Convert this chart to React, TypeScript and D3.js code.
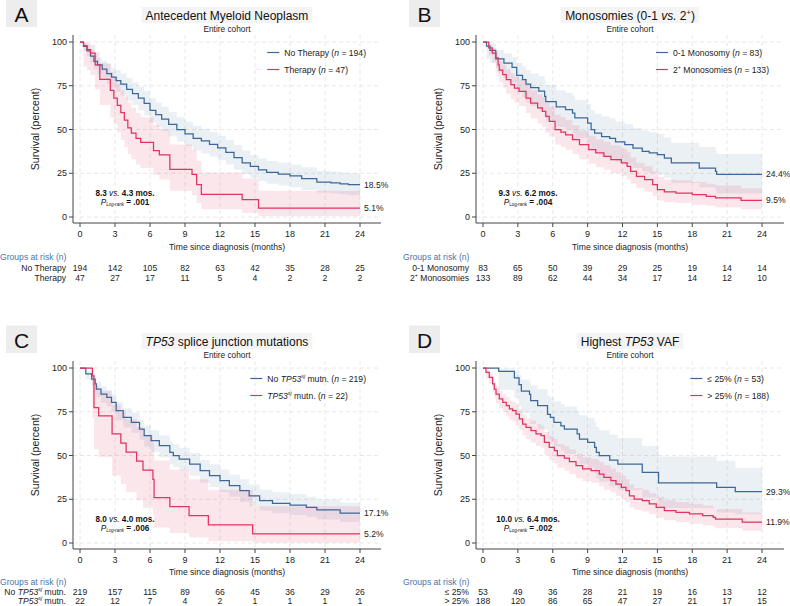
import React, { useEffect, useRef } from "react";
import * as d3 from "d3";

// ---------- shared ----------
const months = [0, 3, 6, 9, 12, 15, 18, 21, 24];
const yTicks = [0, 25, 50, 75, 100];

// ---------- Panel A : Antecedent Myeloid Neoplasm ----------
const aBlueT = [0, 0.3, 0.6, 0.9, 1.2, 1.5, 1.9, 2.3, 2.7, 3.1, 3.5, 4.0, 4.5, 5.0, 5.5, 6.0, 6.5, 7.0, 7.6, 8.3, 9.0, 9.7, 10.4, 11.1, 11.8, 12.5, 13.2, 13.9, 14.6, 15.3, 16.0, 17.0, 18.0, 19.0, 20.3, 21.5, 22.3, 23.0];
const aBlueS = [100, 97.5, 95, 92, 89, 87, 84.5, 82, 80, 78, 76, 73, 70.5, 68, 65, 61, 58.5, 56, 53, 50, 47.5, 45, 43.5, 41.5, 39.5, 37, 34, 31, 29, 27, 25.5, 24.5, 23.5, 22, 20, 19.5, 18.9, 18.5];
const aBlueLo = [100, 95, 92, 88, 84.5, 82, 79, 76, 74, 71.5, 69.5, 66.5, 64, 61, 58, 54, 51.5, 49, 46, 43, 40.5, 38, 36.5, 34.5, 32.5, 30, 27, 24.5, 22.5, 20.5, 19, 18, 17, 15.5, 14, 13.5, 13, 12.5];
const aBlueHi = [100, 99.5, 98, 95.5, 93, 91, 89.5, 87.5, 85.5, 84, 82, 79.5, 77, 74.5, 72, 68, 65.5, 63, 60, 57, 54.5, 52, 50.5, 48.5, 46.5, 44, 41, 38, 35.5, 33.5, 32, 31, 30, 28.5, 26.5, 26, 25.5, 25];
const aRedT = [0, 0.3, 0.6, 0.9, 1.3, 1.7, 2.6, 2.9, 3.2, 3.5, 3.8, 4.1, 4.4, 4.8, 5.2, 6.3, 6.8, 7.7, 9.6, 10.0, 10.4, 13.9, 15.3];
const aRedS = [100, 97.9, 95.7, 93.6, 87, 78.7, 72.3, 68, 63.8, 59.6, 55.3, 51, 48, 45, 42.6, 38, 35.5, 27.2, 24.3, 18.5, 12.9, 9.9, 5.1];
const aRedLo = [100, 86, 84, 81, 73, 64, 57, 53, 48.5, 44, 40, 36, 33, 30, 28, 24, 21.5, 15, 12.5, 8, 4.5, 2.5, 0.5];
const aRedHi = [100, 99.7, 99.4, 98.5, 94.5, 88, 83, 80, 76.5, 72.5, 69, 65.5, 62.5, 59.5, 57, 52.5, 50, 41.5, 38.5, 32, 25.5, 22, 15];
const aRiskBlue = [194, 142, 105, 82, 63, 42, 35, 28, 25];
const aRiskRed = [47, 27, 17, 11, 5, 4, 2, 2, 2];
const aEnd = ["18.5%", "5.1%"];

// ---------- Panel B : Monosomies ----------
const bBlueT = [0, 0.3, 0.6, 1.1, 1.8, 2.5, 2.9, 3.4, 3.7, 4.1, 4.8, 5.3, 5.4, 6.3, 7.1, 7.7, 7.9, 9.0, 9.3, 9.6, 10.2, 10.9, 11.4, 12.2, 12.9, 13.7, 14.3, 15.0, 15.6, 16.2, 18.6, 20.0, 20.1];
const bBlueS = [100, 97.6, 95.2, 90.4, 88, 85.5, 81, 78.5, 76, 74, 72, 69, 66, 63, 61.3, 59.4, 56.6, 53.7, 50, 48, 46, 45, 43, 41.3, 39.4, 37.5, 36.6, 35.6, 33.7, 30.9, 28, 26.1, 24.4];
const bBlueLo = [100, 90.5, 88, 82.5, 79.5, 76.5, 71.5, 68.5, 65.5, 63.5, 61, 58, 55, 51.5, 50, 48, 45, 42, 38.5, 36.5, 34.5, 33.5, 31.5, 30, 28, 26, 25, 24, 22.5, 19.5, 17, 15, 13.5];
const bBlueHi = [100, 99.7, 99, 95.5, 93.5, 91.5, 88, 86, 84, 82, 80.5, 78, 75.5, 72.5, 71, 69.5, 67, 64.5, 61, 59, 57.5, 56.5, 54.5, 53, 51, 49.5, 48.5, 47.5, 45.5, 42.5, 40, 38, 36];
const bRedT = [0, 0.5, 0.8, 1.1, 1.3, 1.4, 1.7, 2.0, 2.4, 2.7, 3.1, 3.7, 4.1, 4.7, 5.1, 5.4, 5.7, 6.2, 6.7, 7.1, 7.7, 8.3, 9.1, 9.7, 10.4, 11.0, 11.9, 12.4, 12.7, 13.2, 13.9, 14.6, 15.0, 15.6, 16.6, 18.0, 19.2, 20.0, 22.2];
const bRedS = [100, 96.6, 93.7, 90.9, 87, 84, 81.3, 78.5, 75.6, 73.7, 71.8, 68, 65.1, 62.3, 60.4, 57.5, 54.7, 50, 48.5, 47, 44.2, 41.3, 38.5, 36.6, 34.7, 32.8, 30.9, 29, 26.1, 23.2, 21.3, 18.5, 15.6, 14.3, 13.7, 12.8, 11.8, 10.9, 9.5];
const bRedLo = [100, 92.5, 88.5, 85, 80.5, 77, 74, 70.5, 67.5, 65.5, 63.5, 59.5, 56.5, 53.5, 51.5, 48.5, 46, 41.5, 40, 38.5, 36, 33, 30.5, 28.5, 27, 25, 23.5, 21.5, 19, 16.5, 14.5, 12, 9.5, 8.5, 8, 7, 6.5, 5.5, 4.5];
const bRedHi = [100, 98.5, 96.5, 94.5, 91.5, 89, 87, 84.5, 82, 80.5, 79, 75.5, 72.5, 70, 68.5, 65.5, 63, 58.5, 57, 55.5, 52.5, 49.5, 46.5, 44.5, 43, 41, 39, 37, 34, 31, 29, 26, 23, 21.5, 21, 20, 19, 18, 16.5];
const bRiskBlue = [83, 65, 50, 39, 29, 25, 19, 14, 14];
const bRiskRed = [133, 89, 62, 44, 34, 17, 14, 12, 10];
const bEnd = ["24.4%", "9.5%"];

// ---------- Panel C : TP53 splice junction ----------
const cBlueT = [0, 0.5, 1.0, 1.3, 1.4, 1.8, 2.3, 2.7, 3.1, 3.7, 4.4, 5.1, 5.5, 6.1, 6.8, 7.7, 8.0, 8.5, 9.4, 10.3, 11.1, 12.0, 12.8, 13.7, 14.5, 15.4, 16.5, 18.0, 19.4, 20.3, 22.3];
const cBlueS = [100, 96.6, 93.7, 90.9, 88, 85.1, 83.2, 80.4, 75.6, 71.8, 69, 65.1, 61.3, 58.5, 55.6, 51.8, 50, 48, 45.1, 41.3, 38.5, 35.6, 32.8, 29.9, 27, 24.2, 22.7, 21.7, 20.4, 18.9, 17.1];
const cBlueLo = [100, 93.5, 90, 86.5, 83.5, 80, 78, 75, 70, 66, 63, 59, 55, 52, 49, 45, 43.5, 41.5, 38.5, 34.5, 32, 29, 26.5, 23.5, 21, 18.5, 17, 16, 15, 13.5, 12];
const cBlueHi = [100, 98.5, 96.5, 94.5, 92, 89.5, 87.5, 85, 80.5, 77, 74.5, 70.5, 67, 64.5, 61.5, 58, 56.5, 54.5, 51.5, 47.5, 45, 42, 39, 36.5, 33.5, 30.5, 29, 28, 26.5, 25, 23];
const cRedT = [0, 1.06, 1.2, 1.6, 2.75, 3.5, 3.95, 4.85, 5.4, 6.25, 6.35, 7.7, 9.35, 11.0, 14.8];
const cRedS = [100, 95.5, 77.3, 72.7, 62.3, 57.1, 51.9, 46.8, 41.6, 36.4, 26.0, 20.8, 15.6, 10.4, 5.2];
const cRedLo = [100, 71.9, 53.6, 49.1, 38.6, 33.7, 29, 24.5, 20.2, 16.1, 8.8, 5.7, 3.1, 1.0, 0.1];
const cRedHi = [100, 99.3, 89.9, 86.7, 79, 74.9, 70.7, 66.3, 61.8, 57.1, 47.1, 41.9, 36.4, 30.4, 21];
const cRiskBlue = [219, 157, 115, 89, 66, 45, 36, 29, 26];
const cRiskRed = [22, 12, 7, 4, 2, 1, 1, 1, 1];
const cEnd = ["17.1%", "5.2%"];

// ---------- Panel D : Highest TP53 VAF ----------
const dBlueT = [0, 1.35, 2.7, 3.1, 3.3, 4.0, 4.1, 4.7, 5.55, 5.8, 6.1, 6.7, 7.0, 8.1, 8.3, 9.0, 9.6, 9.75, 10.0, 10.9, 11.6, 13.7, 15.1, 20.1, 21.7];
const dBlueS = [100, 98.1, 94.3, 90.5, 86.8, 85, 81.3, 78.5, 73.5, 71.8, 69, 67, 65.1, 62.3, 59.4, 57.5, 54.7, 51.8, 49.9, 47.4, 45.1, 40.4, 34.4, 31.8, 29.3];
const dBlueLo = [100, 87.5, 83, 78.5, 74.5, 72, 68, 65, 59.5, 58, 55, 53, 51, 48, 45, 43, 40, 37, 35, 32.5, 30.5, 26, 20, 17.5, 16.5];
const dBlueHi = [100, 99.7, 98, 96, 93.5, 92.5, 90, 88, 84, 83, 81, 79.5, 78, 75.5, 73, 71.5, 69, 66.5, 64.5, 62, 60, 55.5, 49.5, 47, 43];
const dRedT = [0, 0.26, 0.54, 0.83, 0.97, 1.12, 1.4, 1.7, 2.0, 2.27, 2.55, 2.84, 3.13, 3.41, 3.7, 4.13, 4.56, 5.0, 5.28, 5.7, 6.14, 6.4, 7.0, 7.43, 8.0, 8.57, 9.3, 10.0, 10.4, 11.0, 11.44, 11.9, 12.3, 12.6, 13.0, 13.7, 14.3, 14.9, 15.6, 16.6, 17.75, 18.9, 19.8, 20.0, 22.3];
const dRedS = [100, 97.5, 94.7, 90.9, 88, 85.1, 82.3, 80.4, 78.5, 76.6, 75.6, 73.7, 70.9, 68, 66.1, 64.2, 62.3, 61.3, 57.5, 54.7, 52.8, 50, 48.5, 46.5, 44.2, 42.3, 41.3, 39.4, 37.5, 35.6, 33.7, 31.8, 29.9, 27, 25.1, 24.2, 22.3, 20.4, 18.5, 17.5, 16.6, 15.6, 14.7, 13.7, 11.9];
const dRedLo = [100, 94, 91, 86.5, 83, 80, 77, 75, 72.5, 70.5, 69.5, 67.5, 64.5, 61.5, 59.5, 57.5, 55.5, 54.5, 50.5, 47.5, 45.5, 43, 41.5, 39.5, 37, 35.5, 34.5, 32.5, 30.5, 29, 27, 25, 23.5, 20.5, 19, 18, 16.5, 14.5, 13, 12, 11, 10, 9.5, 8.5, 7];
const dRedHi = [100, 99, 97.5, 94.5, 92, 89.5, 87, 85, 83.5, 81.5, 80.5, 79, 76.5, 73.5, 71.5, 70, 68, 67, 63.5, 61, 59.5, 56.5, 55.5, 53.5, 51, 49, 48, 46.5, 44.5, 42.5, 40.5, 38.5, 36.5, 33.5, 31.5, 30.5, 28.5, 26.5, 24.5, 23.5, 22.5, 21.5, 20.5, 19.5, 17.5];
const dRiskBlue = [53, 49, 36, 28, 21, 19, 16, 13, 12];
const dRiskRed = [188, 120, 86, 65, 47, 27, 21, 17, 15];
const dEnd = ["29.3%", "11.9%"];

// ---------- text segments ----------
type Seg = { t: string; i?: boolean; b?: boolean; sup?: boolean; sub?: boolean };

const BLUE = "#3c6798";
const RED = "#e0335f";
const TXT = "#222";
const FONT = "'Liberation Sans', Arial, Helvetica, sans-serif";

const sj: Seg[] = [{ t: "TP53", i: true }, { t: "sj", i: true, sup: true }];

const panels = [
  {
    ox: 0, oy: 0, xw: 280, letter: "A", tableY: [260, 270.5, 280.5],
    title: [{ t: "Antecedent Myeloid Neoplasm" }] as Seg[],
    blue: { t: aBlueT, s: aBlueS, lo: aBlueLo, hi: aBlueHi },
    red: { t: aRedT, s: aRedS, lo: aRedLo, hi: aRedHi },
    legend: [
      [{ t: "No Therapy (" }, { t: "n", i: true }, { t: " = 194)" }],
      [{ t: "Therapy (" }, { t: "n", i: true }, { t: " = 47)" }],
    ] as Seg[][],
    riskLabels: [[{ t: "No Therapy" }], [{ t: "Therapy" }]] as Seg[][],
    risk: [aRiskBlue, aRiskRed],
    ann: [[{ t: "8.3 ", b: true }, { t: "vs.", i: true }, { t: " 4.3 mos.", b: true }], [{ t: "P", i: true }, { t: "Log-rank", i: true, sub: true }, { t: " = .001", b: true }]] as Seg[][],
    end: aEnd,
  },
  {
    ox: 403, oy: 0, xw: 279, letter: "B", tableY: [260, 270.5, 280.5],
    title: [{ t: "Monosomies (0-1 " }, { t: "vs.", i: true }, { t: " 2" }, { t: "+", sup: true }, { t: ")" }] as Seg[],
    blue: { t: bBlueT, s: bBlueS, lo: bBlueLo, hi: bBlueHi },
    red: { t: bRedT, s: bRedS, lo: bRedLo, hi: bRedHi },
    legend: [
      [{ t: "0-1 Monosomy (" }, { t: "n", i: true }, { t: " = 83)" }],
      [{ t: "2" }, { t: "+", sup: true }, { t: " Monosomies (" }, { t: "n", i: true }, { t: " = 133)" }],
    ] as Seg[][],
    riskLabels: [[{ t: "0-1 Monosomy" }], [{ t: "2" }, { t: "+", sup: true }, { t: " Monosomies" }]] as Seg[][],
    risk: [bRiskBlue, bRiskRed],
    ann: [[{ t: "9.3 ", b: true }, { t: "vs.", i: true }, { t: " 6.2 mos.", b: true }], [{ t: "P", i: true }, { t: "Log-rank", sub: true }, { t: " = .004", b: true }]] as Seg[][],
    end: bEnd,
  },
  {
    ox: 0, oy: 326, xw: 280, letter: "C", tableY: [258.5, 268.5, 277.5],
    title: [{ t: "TP53", i: true }, { t: " splice junction mutations" }] as Seg[],
    blue: { t: cBlueT, s: cBlueS, lo: cBlueLo, hi: cBlueHi },
    red: { t: cRedT, s: cRedS, lo: cRedLo, hi: cRedHi },
    legend: [
      [{ t: "No " }, ...sj, { t: " mutn. (" }, { t: "n", i: true }, { t: " = 219)" }],
      [...sj, { t: " mutn. (" }, { t: "n", i: true }, { t: " = 22)" }],
    ] as Seg[][],
    riskLabels: [[{ t: "No " }, ...sj, { t: " mutn." }], [...sj, { t: " mutn." }]] as Seg[][],
    risk: [cRiskBlue, cRiskRed],
    ann: [[{ t: "8.0 ", b: true }, { t: "vs.", i: true }, { t: " 4.0 mos.", b: true }], [{ t: "P", i: true }, { t: "Log-rank", i: true, sub: true }, { t: " = .006", b: true }]] as Seg[][],
    end: cEnd,
  },
  {
    ox: 403, oy: 326, xw: 279, letter: "D", tableY: [258.5, 268.5, 277.5],
    title: [{ t: "Highest " }, { t: "TP53", i: true }, { t: " VAF" }] as Seg[],
    blue: { t: dBlueT, s: dBlueS, lo: dBlueLo, hi: dBlueHi },
    red: { t: dRedT, s: dRedS, lo: dRedLo, hi: dRedHi },
    legend: [
      [{ t: "\u2264 25% (" }, { t: "n", i: true }, { t: " = 53)" }],
      [{ t: "> 25% (" }, { t: "n", i: true }, { t: " = 188)" }],
    ] as Seg[][],
    riskLabels: [[{ t: "\u2264 25%" }], [{ t: "> 25%" }]] as Seg[][],
    risk: [dRiskBlue, dRiskRed],
    ann: [[{ t: "10.0 ", b: true }, { t: "vs.", i: true }, { t: " 6.4 mos.", b: true }], [{ t: "P", i: true }, { t: "Log-rank", sub: true }, { t: " = .002", b: true }]] as Seg[][],
    end: dEnd,
  },
];

function addRich(textSel: any, segs: Seg[], fs: number) {
  let shift = 0;
  segs.forEach((sg) => {
    const ts = textSel.append("tspan").text(sg.t);
    if (sg.i) ts.attr("font-style", "italic");
    if (sg.b) ts.attr("font-weight", "bold");
    let target = 0;
    if (sg.sup) { target = -fs * 0.4; ts.attr("font-size", fs * 0.62); }
    if (sg.sub) { target = fs * 0.22; ts.attr("font-size", fs * 0.55); }
    const dy = target - shift;
    if (dy !== 0) ts.attr("dy", dy);
    shift = target;
  });
}

type Curve = { t: number[]; s: number[]; lo: number[]; hi: number[] };
type Pt = { t: number; s: number; lo: number; hi: number };

function toPts(c: Curve): Pt[] {
  const pts = c.t.map((t, k) => ({ t, s: c.s[k], lo: c.lo[k], hi: c.hi[k] }));
  const last = pts[pts.length - 1];
  pts.push({ t: 24, s: last.s, lo: last.lo, hi: last.hi });
  return pts;
}

function drawPanel(svg: any, p: any) {
  const g = svg.append("g").attr("transform", `translate(${p.ox},${p.oy})`);
  const x = d3.scaleLinear().domain([0, 24]).range([80, 80 + p.xw]);
  const y = d3.scaleLinear().domain([0, 100]).range([217, 42]);
  const axX0 = 73, axY = 223, axTop = 35, axRight = 381;

  // letter box
  g.append("rect").attr("x", 6).attr("y", -0.5).attr("width", 31).attr("height", 27.5).attr("fill", "#ededed");
  g.append("text").attr("x", 21.5).attr("y", 21.5).attr("text-anchor", "middle").attr("font-size", 21).attr("fill", "#111").text(p.letter);

  // title with background
  const titleBg = g.append("rect").attr("fill", "#f4f4f4");
  const title = g.append("text").attr("x", 227).attr("y", 19.5).attr("text-anchor", "middle").attr("font-size", 12).attr("fill", "#111");
  addRich(title, p.title, 12);
  const bb = (title.node() as SVGTextElement).getBBox();
  titleBg.attr("x", bb.x - 4).attr("y", 7).attr("width", bb.width + 8).attr("height", 16);
  g.append("text").attr("x", 227).attr("y", 32).attr("text-anchor", "middle").attr("font-size", 8.3).attr("fill", TXT).text("Entire cohort");

  // grid
  g.append("g").selectAll("line").data(months).join("line")
    .attr("x1", (d: number) => x(d)).attr("x2", (d: number) => x(d))
    .attr("y1", axTop).attr("y2", axY)
    .attr("stroke", "#e2e2e2").attr("stroke-width", 0.8).attr("stroke-dasharray", "4,3");
  g.append("g").selectAll("line").data(yTicks).join("line")
    .attr("x1", axX0).attr("x2", axRight)
    .attr("y1", (d: number) => y(d)).attr("y2", (d: number) => y(d))
    .attr("stroke", "#e2e2e2").attr("stroke-width", 0.8).attr("stroke-dasharray", "4,3");

  const blue = toPts(p.blue);
  const red = toPts(p.red);
  const area = d3.area<Pt>().curve(d3.curveStepAfter).x((d) => x(d.t)).y0((d) => y(d.lo)).y1((d) => y(d.hi));
  const line = d3.line<Pt>().curve(d3.curveStepAfter).x((d) => x(d.t)).y((d) => y(d.s));

  g.append("path").attr("d", area(blue)).attr("fill", BLUE).attr("fill-opacity", 0.1);
  g.append("path").attr("d", area(red)).attr("fill", RED).attr("fill-opacity", 0.12);
  g.append("path").attr("d", line(blue)).attr("fill", "none").attr("stroke", BLUE).attr("stroke-width", 1.25);
  g.append("path").attr("d", line(red)).attr("fill", "none").attr("stroke", RED).attr("stroke-width", 1.25);

  // axes
  g.append("line").attr("x1", axX0).attr("x2", axX0).attr("y1", axTop).attr("y2", axY).attr("stroke", "#444").attr("stroke-width", 1);
  g.append("line").attr("x1", axX0).attr("x2", axRight).attr("y1", axY).attr("y2", axY).attr("stroke", "#444").attr("stroke-width", 1);
  g.append("g").selectAll("line").data(yTicks).join("line")
    .attr("x1", axX0 - 4).attr("x2", axX0).attr("y1", (d: number) => y(d)).attr("y2", (d: number) => y(d)).attr("stroke", "#444");
  g.append("g").selectAll("text").data(yTicks).join("text")
    .attr("x", axX0 - 6).attr("y", (d: number) => y(d)).attr("dy", "0.35em").attr("text-anchor", "end")
    .attr("font-size", 9).attr("fill", TXT).text((d: number) => String(d));
  g.append("g").selectAll("line").data(months).join("line")
    .attr("x1", (d: number) => x(d)).attr("x2", (d: number) => x(d)).attr("y1", axY).attr("y2", axY + 4).attr("stroke", "#444");
  g.append("g").selectAll("text").data(months).join("text")
    .attr("x", (d: number) => x(d)).attr("y", 236.5).attr("text-anchor", "middle")
    .attr("font-size", 9).attr("fill", TXT).text((d: number) => String(d));
  g.append("text").attr("x", 227).attr("y", p.tableY[0] - 10).attr("text-anchor", "middle").attr("font-size", 8.6).attr("fill", TXT).text("Time since diagnosis (months)");
  g.append("text").attr("transform", "translate(39,129) rotate(-90)").attr("text-anchor", "middle").attr("font-size", 10.5).attr("fill", TXT).text("Survival (percent)");

  // legend
  const lt = p.legend.map((segs: Seg[], k: number) => {
    const t = g.append("text").attr("y", 52.5 + k * 17).attr("dy", "0.35em").attr("font-size", 8.6).attr("fill", TXT);
    addRich(t, segs, 8.6);
    return t;
  });
  const maxW = Math.max(...lt.map((t: any) => (t.node() as SVGTextElement).getComputedTextLength()));
  const tx0 = 366 - maxW;
  [BLUE, RED].forEach((c, k) => {
    lt[k].attr("x", tx0);
    g.append("line").attr("x1", tx0 - 17).attr("x2", tx0 - 5).attr("y1", 52.5 + k * 17).attr("y2", 52.5 + k * 17).attr("stroke", c).attr("stroke-width", 1.2);
  });

  // end labels
  g.append("text").attr("x", x(24) + 4).attr("y", y(blue[blue.length - 1].s)).attr("dy", "0.35em").attr("font-size", 8.6).attr("fill", TXT).text(p.end[0]);
  g.append("text").attr("x", x(24) + 4).attr("y", y(red[red.length - 1].s)).attr("dy", "0.35em").attr("font-size", 8.6).attr("fill", TXT).text(p.end[1]);

  // annotation
  p.ann.forEach((segs: Seg[], k: number) => {
    const t = g.append("text").attr("x", 125).attr("y", 195.5 + k * 9).attr("text-anchor", "middle").attr("font-size", 8.2).attr("fill", "#111");
    addRich(t, segs, 8.2);
  });

  // risk table
  g.append("text").attr("x", 0).attr("y", p.tableY[0]).attr("font-size", 8.6).attr("fill", "#4a74a8").text("Groups at risk (n)");
  p.risk.forEach((row: number[], k: number) => {
    const ry = p.tableY[k + 1];
    const lab = g.append("text").attr("x", 66).attr("y", ry).attr("text-anchor", "end").attr("font-size", 8.6).attr("fill", TXT);
    addRich(lab, p.riskLabels[k], 8.6);
    g.append("g").selectAll("text").data(row).join("text")
      .attr("x", (_: number, i: number) => x(months[i])).attr("y", ry).attr("text-anchor", "middle")
      .attr("font-size", 8.6).attr("fill", TXT).text((d: number) => String(d));
  });
}

export default function App() {
  const ref = useRef<SVGSVGElement>(null);
  useEffect(() => {
    const svg = d3.select(ref.current);
    svg.selectAll("*").remove();
    panels.forEach((p) => drawPanel(svg, p));
  }, []);
  return (
    <svg
      ref={ref}
      width={790}
      height={606}
      style={{ position: "absolute", left: 0, top: 0, background: "#fff", fontFamily: FONT }}
    />
  );
}
